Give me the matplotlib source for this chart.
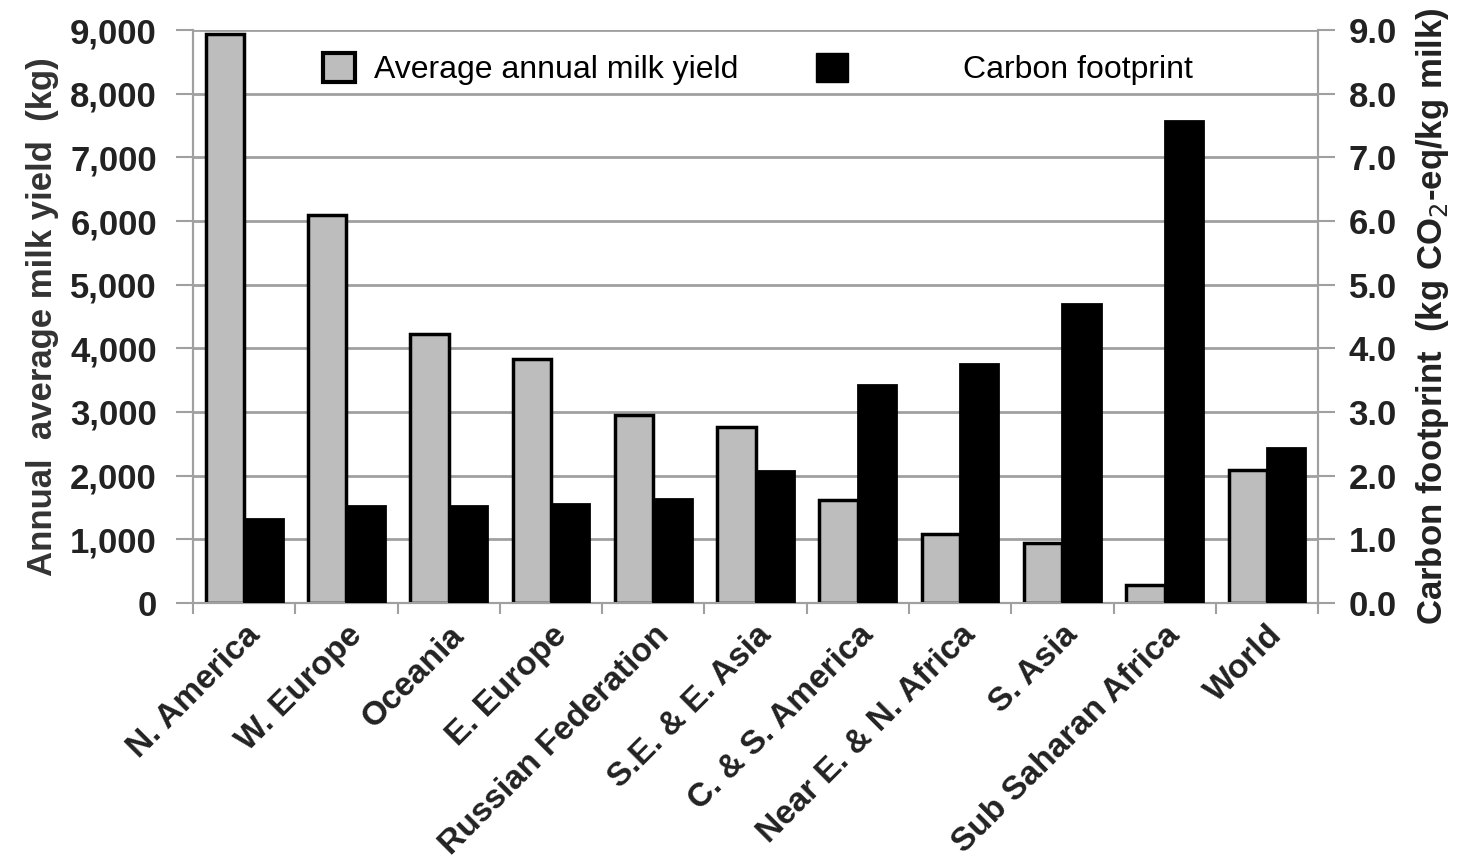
import matplotlib.pyplot as plt
import numpy as np
from matplotlib.patches import Patch

plt.rcParams['font.family'] = ['Liberation Sans', 'DejaVu Sans']

regions = ["N. America", "W. Europe", "Oceania", "E. Europe", "Russian Federation",
           "S.E. & E. Asia", "C. & S. America", "Near E. & N. Africa", "S. Asia",
           "Sub Saharan Africa", "World"]
milk_yield = [8940, 6100, 4230, 3830, 2950, 2770, 1620, 1090, 950, 280, 2090]
carbon_fp = [1.32, 1.53, 1.52, 1.55, 1.63, 2.07, 3.42, 3.75, 4.70, 7.57, 2.44]

grid_c = "#a0a0a0"
fig = plt.figure(figsize=(14.77, 8.65), dpi=100)
ax = fig.add_axes([0.1307, 0.3029, 0.7617, 0.6624])
ax2 = ax.twinx()

x = np.arange(len(regions))
w = 0.375
ax.bar(x - w/2, milk_yield, w, color="#bdbdbd", edgecolor="black", linewidth=2.5, zorder=3)
ax2.bar(x + w/2, carbon_fp, w, color="black", edgecolor="black", linewidth=2, zorder=3)

ax.set_xlim(-0.5, len(regions) - 0.5)
ax.set_ylim(0, 9000)
ax2.set_ylim(0, 9)
ax.set_yticks(range(0, 9001, 1000))
ax.set_yticklabels([f"{v:,}" for v in range(0, 9001, 1000)])
ax2.set_yticks(np.arange(0, 9.01, 1))
ax2.set_yticklabels([f"{v:.1f}" for v in np.arange(0, 9.01, 1)])
ax.yaxis.grid(True, color=grid_c, linewidth=2, zorder=0)
ax.set_axisbelow(True)

ax.set_xticks(x)
ax.set_xticklabels(regions, rotation=45, ha="right", rotation_mode="anchor",
                   fontsize=24, fontweight="bold", color="#222222")
ax.set_xticks(np.arange(-0.5, len(regions), 1), minor=True)
ax.tick_params(axis="x", which="major", length=0, pad=12)
ax.tick_params(axis="x", which="minor", length=8, width=1.5, color=grid_c)

for a in (ax, ax2):
    a.tick_params(axis="y", length=12, width=1.5, color=grid_c, labelsize=25)
    for lab in a.get_yticklabels():
        lab.set_fontweight("bold")
        lab.set_color("#222222")
    a.spines["top"].set_visible(False)
    for s in ("left", "right", "bottom"):
        a.spines[s].set_color(grid_c)
        a.spines[s].set_linewidth(1.5)
ax.tick_params(axis="y", pad=14)
ax2.tick_params(axis="y", pad=10)

ax.set_ylabel("Annual  average milk yield  (kg)", fontsize=25, fontweight="bold",
              color="#333333", labelpad=8)
ax2.set_ylabel("Carbon footprint  (kg CO$_2$-eq/kg milk)", fontsize=25, fontweight="bold",
               color="#222222", labelpad=12)

leg1 = ax2.legend(handles=[Patch(facecolor="#bdbdbd", edgecolor="black", linewidth=3)],
                  labels=["Average annual milk yield"], loc="upper left",
                  bbox_to_anchor=(0.09, 1.01), frameon=False, fontsize=23,
                  handlelength=1.0, handleheight=1.0, handletextpad=0.6)
ax2.add_artist(leg1)
ax2.legend(handles=[Patch(facecolor="black", edgecolor="black")],
           labels=["Carbon footprint"], loc="upper left",
           bbox_to_anchor=(0.528, 1.01), frameon=False, fontsize=23,
           handlelength=1.0, handleheight=1.0, handletextpad=3.6)

fig.savefig("out.png", dpi=100)
